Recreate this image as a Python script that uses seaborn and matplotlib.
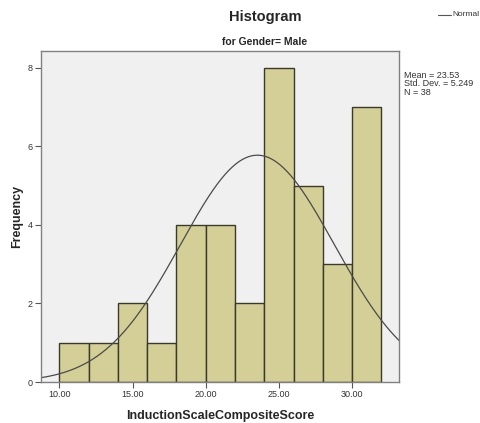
import numpy as np
import pandas as pd
import matplotlib
matplotlib.use("Agg")
import matplotlib.pyplot as plt
import seaborn as sns

# Binned scores (bin width 2 from 10 to 32) and their frequencies
bin_starts = [10, 12, 14, 16, 18, 20, 22, 24, 26, 28, 30]
counts = [1, 1, 2, 1, 4, 4, 2, 8, 5, 3, 7]
bin_width = 2
mean_val = 23.53
sd_val = 5.249
n_val = 38
x_ticks = [10, 15, 20, 25, 30]
y_ticks = [0, 2, 4, 6, 8]

df = pd.DataFrame({"score": [b + bin_width / 2 for b in bin_starts], "freq": counts})

sns.set_style("white")
plt.rcParams["font.family"] = ["Liberation Sans", "DejaVu Sans"]

fig = plt.figure(figsize=(4.81, 4.23), dpi=100)
ax = fig.add_axes([41 / 481, 1 - 382 / 423, (399 - 41) / 481, (382 - 51) / 423])
ax.set_facecolor("#f0f0f0")

sns.histplot(data=df, x="score", weights="freq",
             binwidth=bin_width, binrange=(bin_starts[0], bin_starts[-1] + bin_width),
             color="#d3cf97", alpha=1, edgecolor="#3a3a2a", linewidth=1.0, ax=ax)

# Fitted normal curve scaled to counts
xs = np.linspace(8.75, 33.3, 400)
ys = n_val * bin_width / (sd_val * np.sqrt(2 * np.pi)) * np.exp(-0.5 * ((xs - mean_val) / sd_val) ** 2)
sns.lineplot(x=xs, y=ys, color="#4a4a4a", linewidth=0.9, ax=ax)

ax.set_xlim(8.75, 33.2)
ax.set_ylim(0, 8.43)
ax.set_xticks(x_ticks)
ax.set_xticklabels([f"{v:.2f}" for v in x_ticks])
ax.set_yticks(y_ticks)
ax.tick_params(axis="both", which="major", bottom=True, left=True, direction="out",
               length=4, width=0.8, color="#555555",
               labelsize=6.5, labelcolor="#333333", pad=2)
for s in ax.spines.values():
    s.set_color("#808080")
    s.set_linewidth(1.0)

ax.set_xlabel("InductionScaleCompositeScore", fontsize=9, fontweight="bold", labelpad=8)
ax.set_ylabel("Frequency", fontsize=9, fontweight="bold")
ax.yaxis.set_label_coords((23 - 41) / 358, 0.5)

fig.text(265 / 481, 1 - 17 / 423, "Histogram", ha="center", va="center",
         fontsize=10.5, fontweight="bold")
fig.text(265 / 481, 1 - 42 / 423, "for Gender= Male", ha="center", va="center",
         fontsize=7.5, fontweight="bold")

# Legend entry at the top right
fig.add_artist(plt.Line2D([438 / 481, 451 / 481], [1 - 15 / 423, 1 - 15 / 423],
                          color="#555555", linewidth=0.8))
fig.text(452 / 481, 1 - 15 / 423, "Normal", ha="left", va="center",
         fontsize=6, color="#333333")

fig.text(404 / 481, 1 - 71 / 423,
         f"Mean = {mean_val:.2f}\nStd. Dev. = {sd_val:.3f}\nN = {n_val}",
         ha="left", va="top", fontsize=6.5, color="#333333", linespacing=0.9)

fig.savefig("out.png", dpi=100)
